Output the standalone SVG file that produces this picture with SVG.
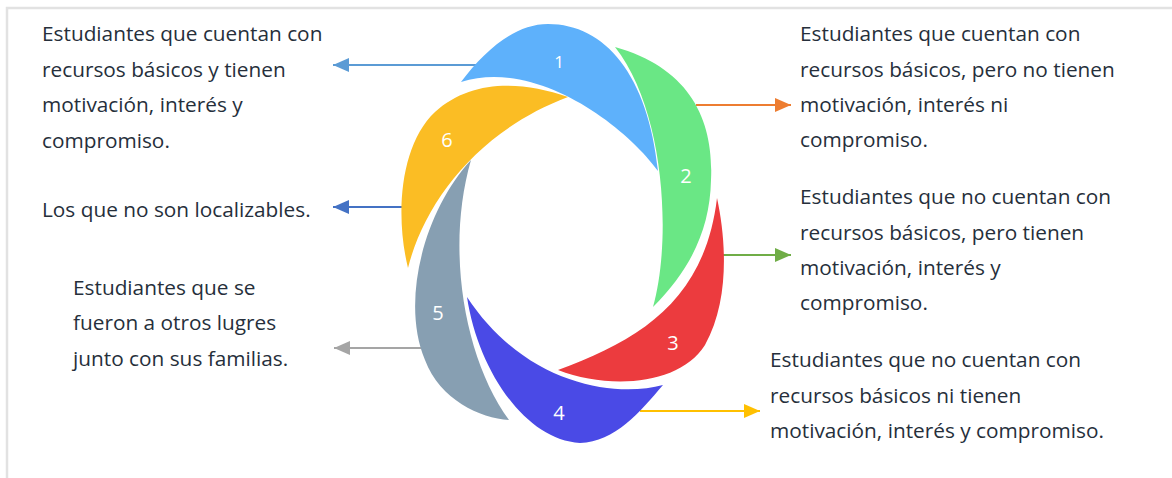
<svg xmlns="http://www.w3.org/2000/svg" width="1172" height="478" viewBox="0 0 1172 478">
<style>
.t{font-family:"Open Sans","Liberation Sans",sans-serif;font-size:20.8px;fill:#262f3b}
.n{font-family:"Open Sans","Liberation Sans",sans-serif;font-size:20px;fill:#ffffff;text-anchor:middle}
.c{fill:none;stroke-width:2}
</style>
<defs>
<marker id="mBlue" markerUnits="userSpaceOnUse" markerWidth="16" markerHeight="14" refX="16" refY="7" orient="auto"><path d="M0,0 L16,7 L0,14 z" fill="#5b9bd5"/></marker>
<marker id="mDark" markerUnits="userSpaceOnUse" markerWidth="16" markerHeight="14" refX="16" refY="7" orient="auto"><path d="M0,0 L16,7 L0,14 z" fill="#4472c4"/></marker>
<marker id="mGray" markerUnits="userSpaceOnUse" markerWidth="16" markerHeight="14" refX="16" refY="7" orient="auto"><path d="M0,0 L16,7 L0,14 z" fill="#a5a5a5"/></marker>
<marker id="mOrange" markerUnits="userSpaceOnUse" markerWidth="16" markerHeight="14" refX="16" refY="7" orient="auto"><path d="M0,0 L16,7 L0,14 z" fill="#ed7d31"/></marker>
<marker id="mGreen" markerUnits="userSpaceOnUse" markerWidth="16" markerHeight="14" refX="16" refY="7" orient="auto"><path d="M0,0 L16,7 L0,14 z" fill="#70ad47"/></marker>
<marker id="mYellow" markerUnits="userSpaceOnUse" markerWidth="16" markerHeight="14" refX="16" refY="7" orient="auto"><path d="M0,0 L16,7 L0,14 z" fill="#ffc000"/></marker>
</defs>
<rect width="1172" height="478" fill="#ffffff"/>
<path d="M7,478 L7,8 L1172,8" fill="none" stroke="#e2e2e2" stroke-width="2.5"/>

<g id="connectors">
<line class="c" x1="477" y1="65" x2="333" y2="65" stroke="#5b9bd5" marker-end="url(#mBlue)"/>
<line class="c" x1="402" y1="207" x2="333" y2="207" stroke="#4472c4" marker-end="url(#mDark)"/>
<line class="c" x1="423" y1="348" x2="334" y2="348" stroke="#a5a5a5" marker-end="url(#mGray)"/>
<line class="c" x1="696" y1="105" x2="791" y2="105" stroke="#ed7d31" marker-end="url(#mOrange)"/>
<line class="c" x1="723" y1="255" x2="791" y2="255" stroke="#70ad47" marker-end="url(#mGreen)"/>
<line class="c" x1="640" y1="411" x2="760" y2="411" stroke="#ffc000" marker-end="url(#mYellow)"/>
</g>

<g id="node1">
<path d="M461,82 C485,50 515,24 548,24 C605,24 648,75 658,171 C625,125 535,58 461,82 Z" fill="#5eb1fb"/>
<text class="n" x="559" y="68" style="font-size:17px">1</text>
</g>
<g id="node2">
<path d="M615,47 C690,68 714,120 711,180 C710,230 690,270 653,307 C672,240 665,110 615,47 Z" fill="#6ae785"/>
<text class="n" x="686" y="183">2</text>
</g>
<g id="node3">
<path d="M717,198 C726,240 730,300 705,345 C680,385 610,390 558,370 C640,340 705,300 717,198 Z" fill="#ec3b3e"/>
<text class="n" x="673" y="350">3</text>
</g>
<g id="node4">
<path d="M467,297 C478,370 525,440 580,443 C615,442 640,412 663,385 C615,398 525,385 467,297 Z" fill="#4a4ae6"/>
<text class="n" x="559" y="420">4</text>
</g>
<g id="node5">
<path d="M471,160 C425,210 400,300 425,360 C440,400 480,418 509,420 C465,360 445,250 471,160 Z" fill="#879fb2"/>
<text class="n" x="438" y="320">5</text>
</g>
<g id="node6">
<path d="M568,97 C520,80 470,80 435,112 C400,145 395,215 408,268 C425,200 480,130 568,97 Z" fill="#fbbd24"/>
<text class="n" x="447" y="147">6</text>
</g>

<g id="label1">
<text class="t" x="42" y="41">Estudiantes que cuentan con</text>
<text class="t" x="42" y="77">recursos básicos y tienen</text>
<text class="t" x="42" y="112">motivación, interés y</text>
<text class="t" x="42" y="147.5">compromiso.</text>
</g>
<g id="label6">
<text class="t" x="42" y="216.5">Los que no son localizables.</text>
</g>
<g id="label5">
<text class="t" x="73" y="295">Estudiantes que se</text>
<text class="t" x="73" y="330">fueron a otros lugres</text>
<text class="t" x="73" y="365.5">junto con sus familias.</text>
</g>
<g id="label2">
<text class="t" x="800" y="41">Estudiantes que cuentan con</text>
<text class="t" x="800" y="77">recursos básicos, pero no tienen</text>
<text class="t" x="800" y="112">motivación, interés ni</text>
<text class="t" x="800" y="147">compromiso.</text>
</g>
<g id="label3">
<text class="t" x="800" y="204">Estudiantes que no cuentan con</text>
<text class="t" x="800" y="239.5">recursos básicos, pero tienen</text>
<text class="t" x="800" y="274.5">motivación, interés y</text>
<text class="t" x="800" y="309.5">compromiso.</text>
</g>
<g id="label4">
<text class="t" x="770" y="367">Estudiantes que no cuentan con</text>
<text class="t" x="770" y="402.5">recursos básicos ni tienen</text>
<text class="t" x="770" y="438">motivación, interés y compromiso.</text>
</g>
</svg>
